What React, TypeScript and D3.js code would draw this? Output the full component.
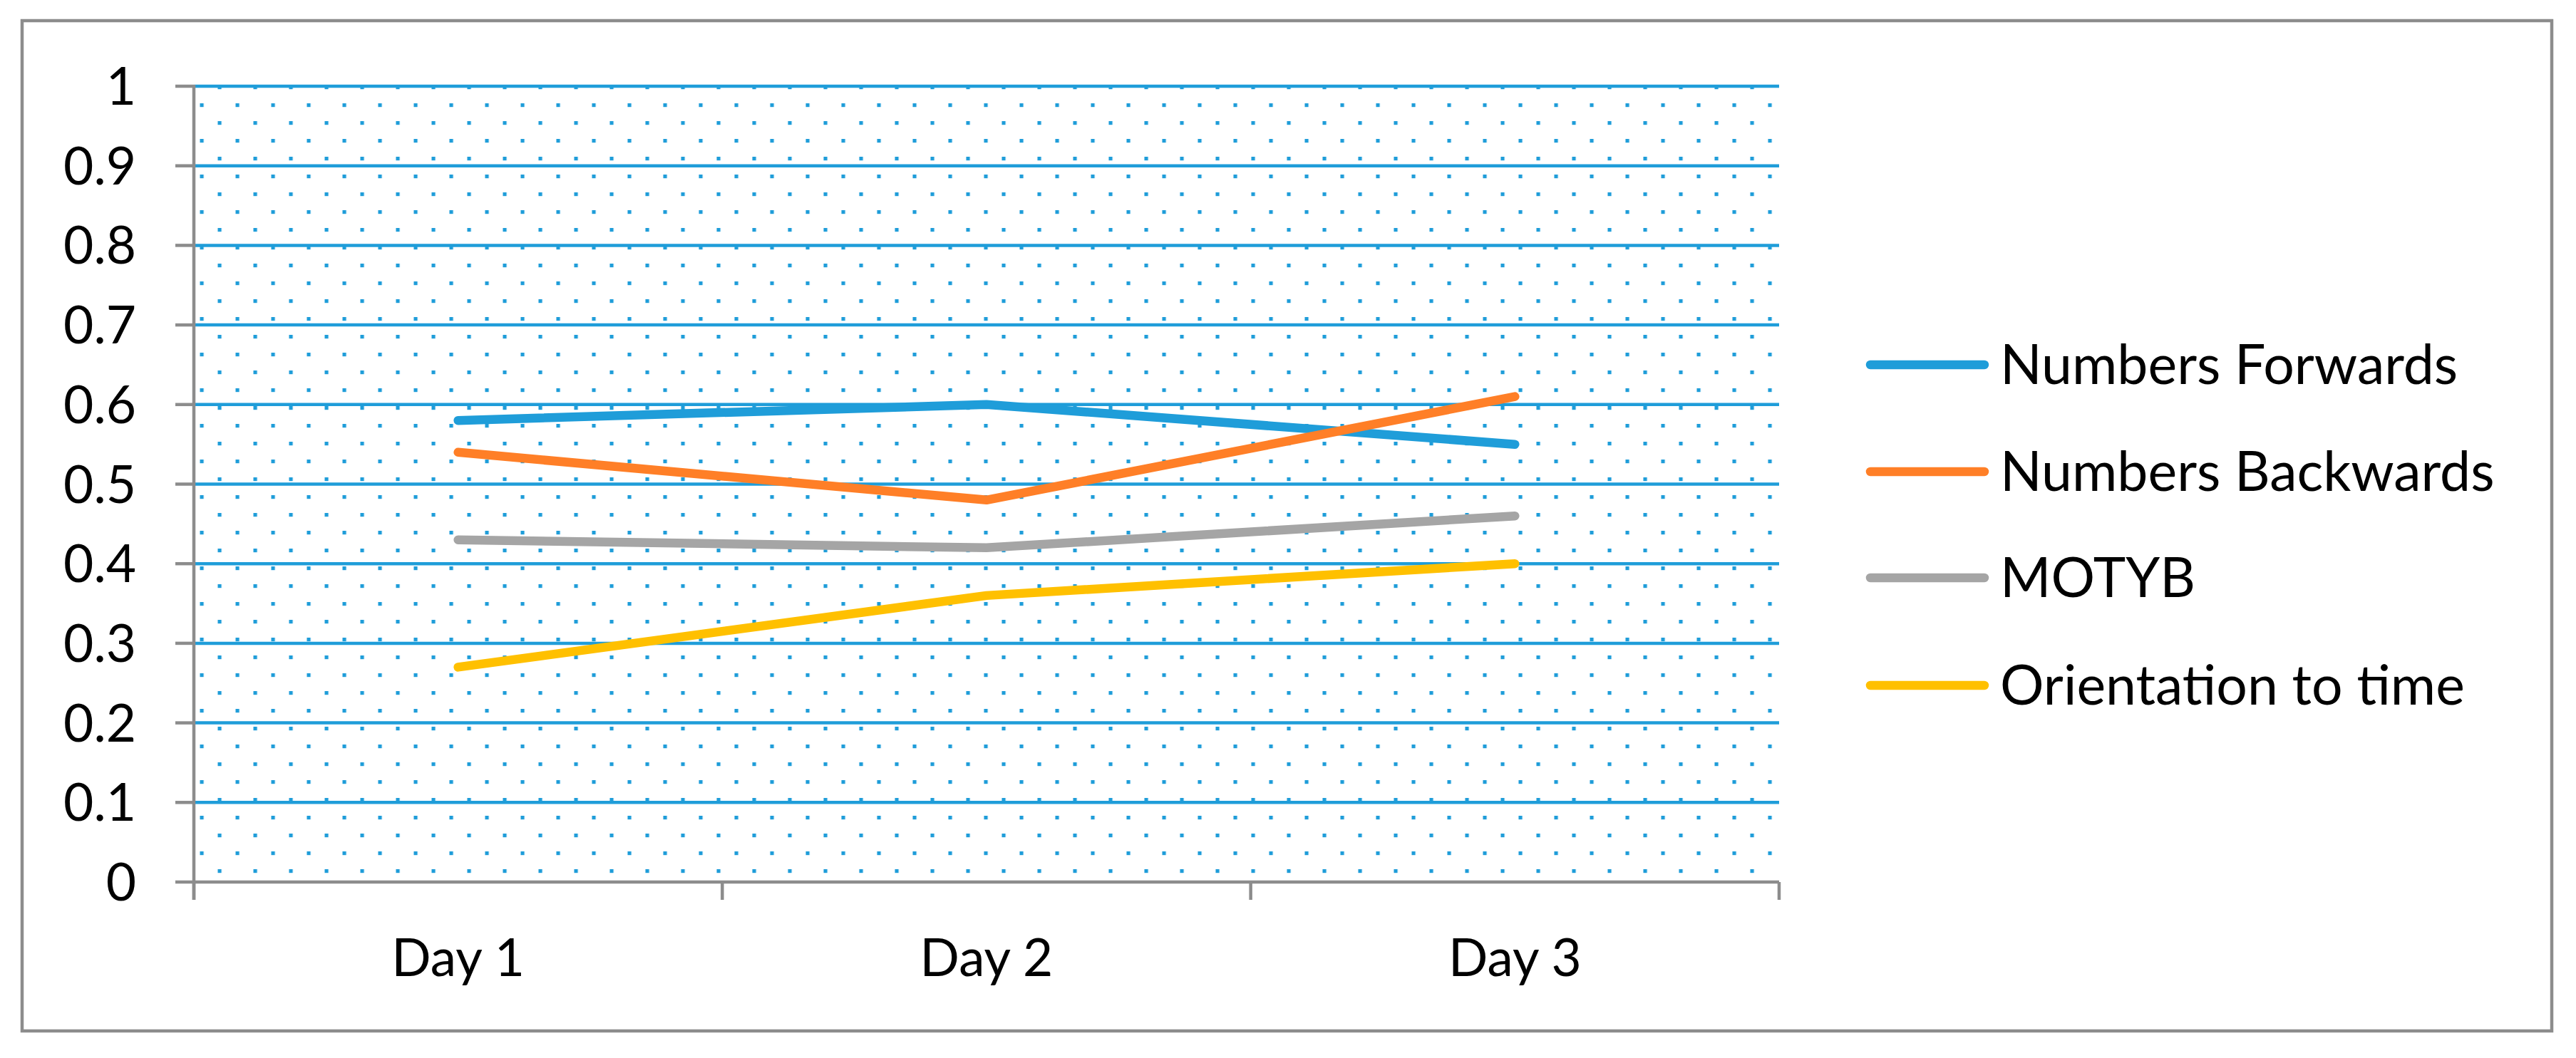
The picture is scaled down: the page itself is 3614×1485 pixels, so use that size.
import React from "react";
import * as d3 from "d3";

const categories = ["Day 1", "Day 2", "Day 3"];
const seriesNames = ["Numbers Forwards", "Numbers Backwards", "MOTYB", "Orientation to time"];
const numbersForwards = [0.58, 0.6, 0.55];
const numbersBackwards = [0.54, 0.48, 0.61];
const motyb = [0.43, 0.42, 0.46];
const orientationToTime = [0.27, 0.36, 0.4];
const yTicks = [0, 0.1, 0.2, 0.3, 0.4, 0.5, 0.6, 0.7, 0.8, 0.9, 1];
const yTickLabels = ["0", "0.1", "0.2", "0.3", "0.4", "0.5", "0.6", "0.7", "0.8", "0.9", "1"];
const seriesColors = ["#1F9DD9", "#FF7F27", "#A5A5A5", "#FFC000"];

const W = 3614;
const H = 1485;
const plotLeft = 272;
const plotRight = 2496;
const plotTop = 121;
const plotBottom = 1238;
const FONT = "Lato, 'Open Sans', sans-serif";
const FS = 73;
const LFS = 77;
const GRAY = "#8C8C8C";
const BLUE = "#1F9DD9";

export default function App() {
  const x = d3.scaleBand<string>().domain(categories).range([plotLeft, plotRight]).padding(0);
  const y = d3.scaleLinear().domain([0, 1]).range([plotBottom, plotTop]);
  const series = [numbersForwards, numbersBackwards, motyb, orientationToTime];
  const line = d3
    .line<number>()
    .x((_, i) => (x(categories[i]) as number) + x.bandwidth() / 2)
    .y((d) => y(d));

  const legendX1 = 2624;
  const legendX2 = 2784;
  const legendTextX = 2806;
  const legendYs = [512, 662, 811, 962];

  const catBounds = [...categories.map((c) => x(c) as number), plotRight];

  return (
    <>
      <style>{"body{margin:0;} svg{display:block;}"}</style>
      <svg width={W} height={H} viewBox={`0 0 ${W} ${H}`} style={{ background: "#fff" }}>
        <defs>
          <pattern id="dots" patternUnits="userSpaceOnUse" x={280.5} y={145} width={50} height={50}>
            <rect x={0} y={0} width={5.2} height={5.2} fill={BLUE} />
            <rect x={25} y={25} width={5.2} height={5.2} fill={BLUE} />
          </pattern>
        </defs>
        <rect x={31} y={29} width={3549} height={1418} fill="#fff" stroke={GRAY} strokeWidth={4.5} />
        <rect x={plotLeft} y={plotTop} width={plotRight - plotLeft} height={plotBottom - plotTop} fill="url(#dots)" />
        {yTicks
          .filter((t) => t > 0)
          .map((t) => (
            <line key={"g" + t} x1={plotLeft} x2={plotRight} y1={y(t)} y2={y(t)} stroke={BLUE} strokeWidth={4.5} />
          ))}
        {/* y axis */}
        <line x1={plotLeft} x2={plotLeft} y1={plotTop - 2} y2={plotBottom + 25} stroke={GRAY} strokeWidth={4.5} />
        {yTicks.map((t) => (
          <line key={"t" + t} x1={plotLeft - 26} x2={plotLeft} y1={y(t)} y2={y(t)} stroke={GRAY} strokeWidth={4.5} />
        ))}
        {/* x axis */}
        <line x1={plotLeft} x2={plotRight} y1={plotBottom} y2={plotBottom} stroke={GRAY} strokeWidth={4.5} />
        {catBounds.map((b, i) => (
          <line key={"xb" + i} x1={b} x2={b} y1={plotBottom} y2={plotBottom + 25} stroke={GRAY} strokeWidth={4.5} />
        ))}
        {yTicks.map((t, i) => (
          <text key={"yl" + t} x={191} y={y(t) + 26} textAnchor="end" fontFamily={FONT} fontSize={FS} fill="#000">
            {yTickLabels[i]}
          </text>
        ))}
        {categories.map((c) => (
          <text
            key={c}
            x={(x(c) as number) + x.bandwidth() / 2}
            y={1370}
            textAnchor="middle"
            fontFamily={FONT}
            fontSize={FS}
            fill="#000"
          >
            {c}
          </text>
        ))}
        {series.map((s, i) => (
          <path
            key={seriesNames[i]}
            d={line(s) as string}
            fill="none"
            stroke={seriesColors[i]}
            strokeWidth={12.5}
            strokeLinecap="round"
            strokeLinejoin="round"
          />
        ))}
        {seriesNames.map((n, i) => (
          <g key={"lg" + n}>
            <line
              x1={legendX1}
              x2={legendX2}
              y1={legendYs[i]}
              y2={legendYs[i]}
              stroke={seriesColors[i]}
              strokeWidth={12.5}
              strokeLinecap="round"
            />
            <text x={legendTextX} y={legendYs[i] + 27} fontFamily={FONT} fontSize={LFS} fill="#000">
              {n}
            </text>
          </g>
        ))}
      </svg>
    </>
  );
}
